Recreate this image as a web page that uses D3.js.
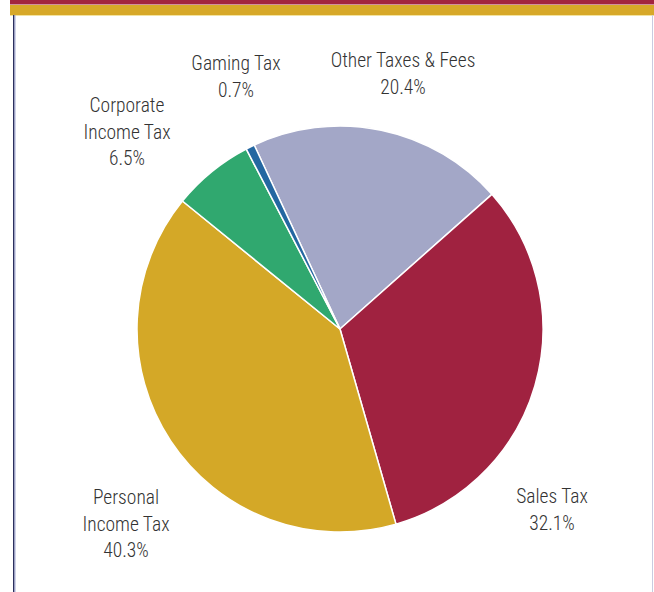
<!DOCTYPE html>
<html><head><meta charset="utf-8">
<script src="https://cdn.jsdelivr.net/npm/d3@7"></script>
<style>
html,body{margin:0;padding:0;background:#fff;}
svg{display:block;}
</style></head>
<body>
<svg id="chart" width="654" height="592"></svg>
<script>
const categories = ["Other Taxes & Fees", "Sales Tax", "Personal Income Tax", "Corporate Income Tax", "Gaming Tax"];
const values = [20.4, 32.1, 40.3, 6.5, 0.7];
const colors = ["#a3a7c7", "#a02240", "#d4a827", "#30a86f", "#2467a1"];
const labelLines = [["Other Taxes & Fees", "20.4%"], ["Sales Tax", "32.1%"], ["Personal", "Income Tax", "40.3%"], ["Corporate", "Income Tax", "6.5%"], ["Gaming Tax", "0.7%"]];

const svg = d3.select("#chart");
// frame
svg.append("rect").attr("x", 10).attr("y", 0).attr("width", 644).attr("height", 4.5).attr("fill", "#a2243f");
svg.append("rect").attr("x", 10).attr("y", 5).attr("width", 644).attr("height", 10).attr("fill", "#d7a828");
svg.append("rect").attr("x", 10).attr("y", 15).attr("width", 644).attr("height", 1).attr("fill", "#f3e3a0");
svg.append("rect").attr("x", 13).attr("y", 15).attr("width", 1.5).attr("height", 577).attr("fill", "#2b2f5e");
svg.append("rect").attr("x", 14.5).attr("y", 15).attr("width", 1).attr("height", 577).attr("fill", "#a4a9d4");
svg.append("rect").attr("x", 652).attr("y", 15).attr("width", 1).attr("height", 577).attr("fill", "#c9cbe0");

const cx = 340, cy = 329, r = 203;
const pie = d3.pie().sort(null).value(d => d)
  .startAngle(-25 * Math.PI / 180).endAngle(335 * Math.PI / 180);
const arc = d3.arc().innerRadius(0).outerRadius(r);
const g = svg.append("g").attr("transform", `translate(${cx},${cy})`);
g.selectAll("path").data(pie(values)).join("path")
  .attr("d", arc)
  .attr("fill", (d, i) => colors[i])
  .attr("stroke", "#fff").attr("stroke-width", 1.5).attr("stroke-linejoin", "round");

// label anchors (center x, first baseline y)
const labelPos = [[403, 67], [552, 503], [126, 504], [127, 112], [236, 70]];
const lg = svg.append("g")
  .attr("font-family", "'Roboto Condensed','Liberation Sans Narrow',sans-serif")
  .attr("font-weight", 300)
  .attr("font-size", 19.5).attr("fill", "#333").attr("text-anchor", "middle");
labelLines.forEach((lines, i) => {
  const t = lg.append("text").attr("x", labelPos[i][0]).attr("y", labelPos[i][1]);
  lines.forEach((l, j) => {
    t.append("tspan").attr("x", labelPos[i][0]).attr("dy", j === 0 ? 0 : 26.5).text(l);
  });
});
</script>
</body></html>
